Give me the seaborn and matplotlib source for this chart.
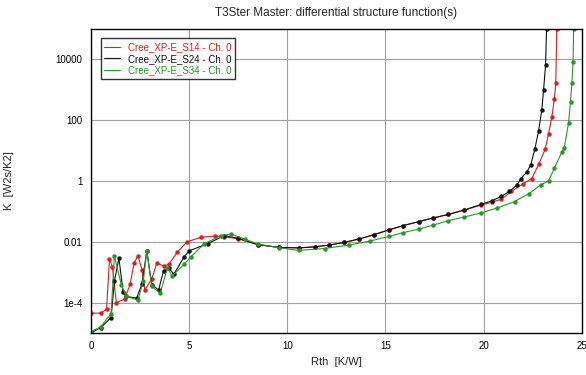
import pandas as pd
import numpy as np
import matplotlib
matplotlib.use("Agg")
import matplotlib.pyplot as plt
import seaborn as sns

# values (Rth in K/W, K in W2s/K2)
rth_s14 = [0.0, 0.5, 0.8, 0.95, 1.1, 1.3, 1.72, 2.0, 2.2, 2.4, 2.6, 2.75, 3.1, 3.36, 3.7, 3.97,
           4.4, 4.9, 5.6, 6.3, 6.8, 7.5, 8.5, 9.6, 10.6, 11.4, 12.14, 12.9, 13.65, 14.4, 15.17,
           15.9, 16.7, 17.4, 18.2, 19.0, 19.87, 20.4, 20.9, 21.4, 22.0, 22.45, 22.8, 23.13, 23.3,
           23.47, 23.6, 23.67, 23.72]
k_s14 = [4.5e-5, 4.5e-5, 6e-5, 2.7e-3, 1.5e-3, 1.0e-4, 1.3e-4, 4e-4, 2e-3, 3.5e-3, 1.2e-3, 2.6e-4,
         6e-4, 2e-3, 1.6e-3, 1.8e-3, 4.5e-3, 1e-2, 1.4e-2, 1.55e-2, 1.45e-2, 1.25e-2, 8e-3, 6.5e-3,
         6.3e-3, 6.8e-3, 7.8e-3, 9.5e-3, 1.23e-2, 1.7e-2, 2.45e-2, 3.4e-2, 4.6e-2, 6e-2, 7.9e-2,
         0.11, 0.16, 0.2, 0.25, 0.45, 0.8, 1.2, 3.5, 11, 35, 126, 500, 1600, 1e5]

rth_s24 = [0.0, 0.5, 1.03, 1.2, 1.43, 1.64, 1.8, 2.33, 2.6, 2.85, 3.1, 3.45, 3.7, 3.97, 4.22, 4.74,
           5.0, 5.95, 6.8, 7.5, 8.5, 9.6, 10.6, 11.4, 12.14, 12.9, 13.65, 14.4, 15.17, 15.9, 16.7,
           17.4, 18.2, 19.0, 19.87, 20.4, 20.9, 21.3, 21.7, 21.9, 22.2, 22.4, 22.6, 22.8, 22.96,
           23.05, 23.15, 23.2]
k_s24 = [1e-5, 1.5e-5, 3.2e-5, 5e-4, 2.9e-3, 2.3e-4, 1.6e-4, 1.4e-4, 4e-4, 5e-3, 3.9e-4, 2.6e-4,
         1.1e-3, 1.4e-3, 8.5e-4, 3.1e-3, 5e-3, 8.7e-3, 1.6e-2, 1.3e-2, 8e-3, 6.5e-3, 6.3e-3, 6.8e-3,
         7.8e-3, 9.5e-3, 1.23e-2, 1.7e-2, 2.45e-2, 3.4e-2, 4.6e-2, 6e-2, 7.9e-2, 0.11, 0.17, 0.22,
         0.31, 0.45, 0.74, 1.2, 2.0, 3.4, 11, 45, 220, 1000, 6300, 1e5]

rth_s34 = [0.0, 0.5, 1.03, 1.2, 1.55, 1.8, 2.4, 2.67, 2.85, 3.1, 3.53, 3.9, 4.14, 4.74, 5.08, 5.78,
           6.64, 7.15, 7.85, 8.5, 9.6, 10.6, 11.9, 13.15, 14.2, 15.17, 15.9, 16.7, 17.4, 18.2, 19.0,
           19.87, 20.7, 21.57, 22.3, 22.9, 23.3, 23.6, 23.98, 24.1, 24.32, 24.42, 24.49, 24.55, 24.58]
k_s34 = [1.1e-5, 1.6e-5, 4.3e-5, 3.5e-3, 3.9e-4, 1.6e-4, 1.2e-4, 5e-4, 5e-3, 3.5e-4, 2e-4, 1.4e-3,
         7.4e-4, 1.8e-3, 3.1e-3, 8.7e-3, 1.6e-2, 1.8e-2, 1.2e-2, 8.5e-3, 6.3e-3, 5.2e-3, 6e-3,
         7.8e-3, 1.05e-2, 1.5e-2, 2e-2, 2.6e-2, 3.5e-2, 4.9e-2, 6.5e-2, 8.9e-2, 0.13, 0.21, 0.38,
         0.74, 1.0, 2.6, 9, 12, 80, 400, 1600, 8000, 1e5]

labels = ["Cree_XP-E_S14 - Ch. 0", "Cree_XP-E_S24 - Ch. 0", "Cree_XP-E_S34 - Ch. 0"]
colors = ["#d42222", "#111111", "#2a962a"]

ytick_vals = [1e-4, 1e-2, 1, 1e2, 1e4]
ytick_labels = ["1e-4", "0.01", "1", "100", "10000"]
xtick_vals = [0, 5, 10, 15, 20, 25]

df = pd.concat([
    pd.DataFrame({"Rth": rth_s14, "K": k_s14, "series": labels[0]}),
    pd.DataFrame({"Rth": rth_s24, "K": k_s24, "series": labels[1]}),
    pd.DataFrame({"Rth": rth_s34, "K": k_s34, "series": labels[2]}),
])

sns.set_style("white")
plt.rcParams["font.family"] = ["Liberation Sans", "DejaVu Sans"]

fig = plt.figure(figsize=(5.86, 3.75), dpi=100)
ax = fig.add_axes([0.155, 0.112, 0.838, 0.811])

sns.lineplot(data=df, x="Rth", y="K", hue="series", palette=colors, sort=False,
             estimator=None, marker="o", markersize=3.2, markeredgewidth=0, linewidth=0.8, ax=ax)

ax.set_yscale("log")
ax.set_xlim(0, 25)
ax.set_ylim(1e-5, 1e5)
ax.set_yticks(ytick_vals)
ax.set_yticklabels(ytick_labels)
ax.set_xticks(xtick_vals)
ax.minorticks_off()
ax.tick_params(direction="in", length=4, width=1, labelsize=7, colors="black", pad=6)
ax.grid(True, color="#a0a0a0", linewidth=0.8)
for s in ax.spines.values():
    s.set_color("black")
    s.set_linewidth(1)

ax.set_title("T3Ster Master: differential structure function(s)", fontsize=8.5, pad=9)
ax.set_xlabel("Rth  [K/W]", fontsize=8)
ax.set_ylabel("K  [W2s/K2]", fontsize=8, labelpad=30)

leg = ax.legend(loc="upper left", fontsize=7, frameon=True, fancybox=False, labelcolor="linecolor",
                handlelength=1.6, borderpad=0.4, labelspacing=0.15, bbox_to_anchor=(0.01, 0.985))
leg.get_frame().set_edgecolor("black")
leg.get_frame().set_linewidth(1)
for h in leg.legend_handles:
    h.set_marker("")

fig.savefig("out.png", dpi=100)
